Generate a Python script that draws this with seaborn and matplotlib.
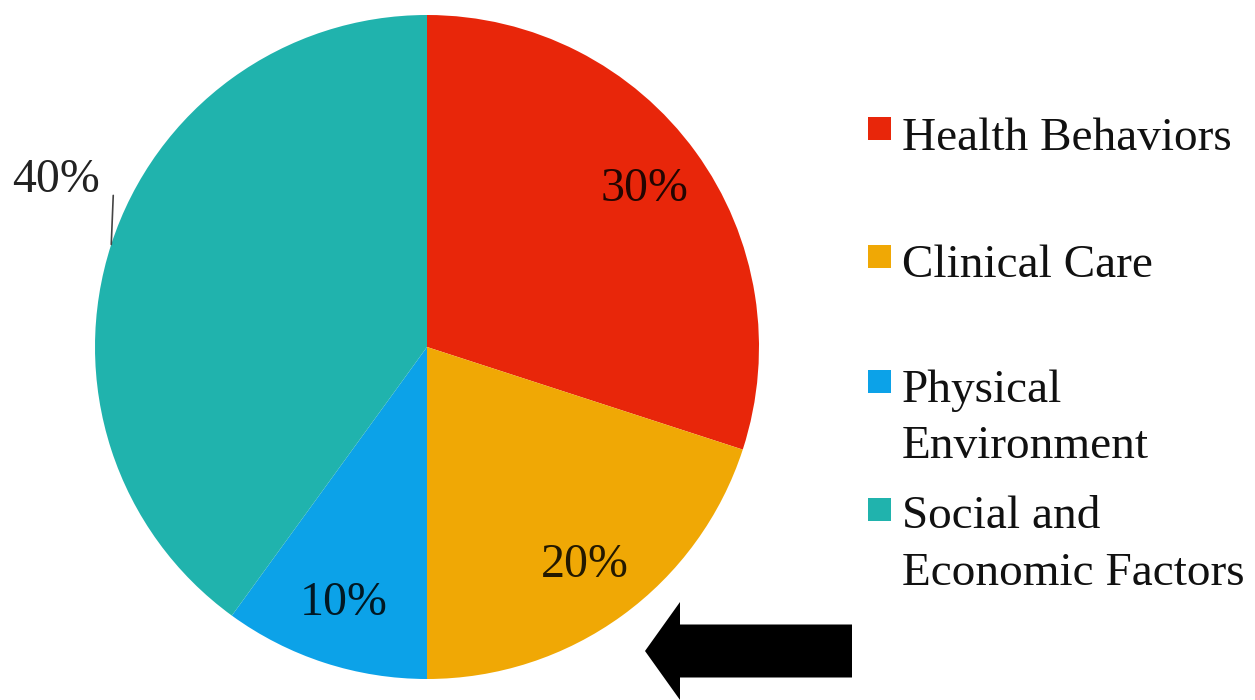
import numpy as np
import matplotlib
matplotlib.use("Agg")
from matplotlib import pyplot as plt
from matplotlib.patches import Rectangle, FancyArrow
import seaborn as sns

# Chart data
categories = ["Health Behaviors", "Clinical Care", "Physical Environment", "Social and Economic Factors"]
legend_lines = [["Health Behaviors"], ["Clinical Care"], ["Physical", "Environment"], ["Social and", "Economic Factors"]]
shares = [30, 20, 10, 40]
colors = ["#E8260A", "#F0A805", "#0CA2E8", "#20B3AD"]

sns.set_theme(style="white")
plt.rcParams['font.family'] = ['Liberation Serif', 'DejaVu Serif']

W, H = 1255, 700
fig = plt.figure(figsize=(W / 100, H / 100), dpi=100)
ax = fig.add_axes([0, 0, 1, 1])

# Pie, center and radius in pixel units (y up)
cx, cy, r = 427, H - 347, 332
wedges, texts, autotexts = ax.pie(shares, colors=colors, startangle=90, counterclock=False,
                                  center=(cx, cy), radius=r, autopct='%d%%', pctdistance=0.81,
                                  wedgeprops=dict(linewidth=0),
                                  textprops=dict(fontsize=34.5, color='black', alpha=0.85))

# The 40% label sits outside with a short leader line
last = wedges[-1]
mid = np.deg2rad((last.theta1 + last.theta2) / 2)
ex, ey = cx + r * np.cos(mid), cy + r * np.sin(mid)
ax.plot([ex, ex + 2], [ey, ey + 49], color='#444444', lw=1.2)
autotexts[-1].set_position((56, H - 180))
autotexts[-1].set_alpha(1)
autotexts[-1].set_color('#222222')

# Legend drawn as squares + text (one baseline per line)
marker_y = [128, 256, 381, 509]
baselines = [[150], [277], [402, 458], [528, 585]]
for lines, col, my, bys in zip(legend_lines, colors, marker_y, baselines):
    ax.add_patch(Rectangle((868, H - my - 11.5), 23, 23, facecolor=col, edgecolor='none'))
    for line, by in zip(lines, bys):
        ax.text(902, H - by, line, fontsize=34, color='#111111', va='baseline', ha='left')

# Black arrow pointing at the chart
ax.add_patch(FancyArrow(852, H - 651, -207, 0, width=53, head_width=98, head_length=35,
                        length_includes_head=True, color='black', lw=0))

ax.set_xlim(0, W)
ax.set_ylim(0, H)
ax.set_aspect('auto')
ax.axis('off')

fig.savefig("out.png", dpi=100)
